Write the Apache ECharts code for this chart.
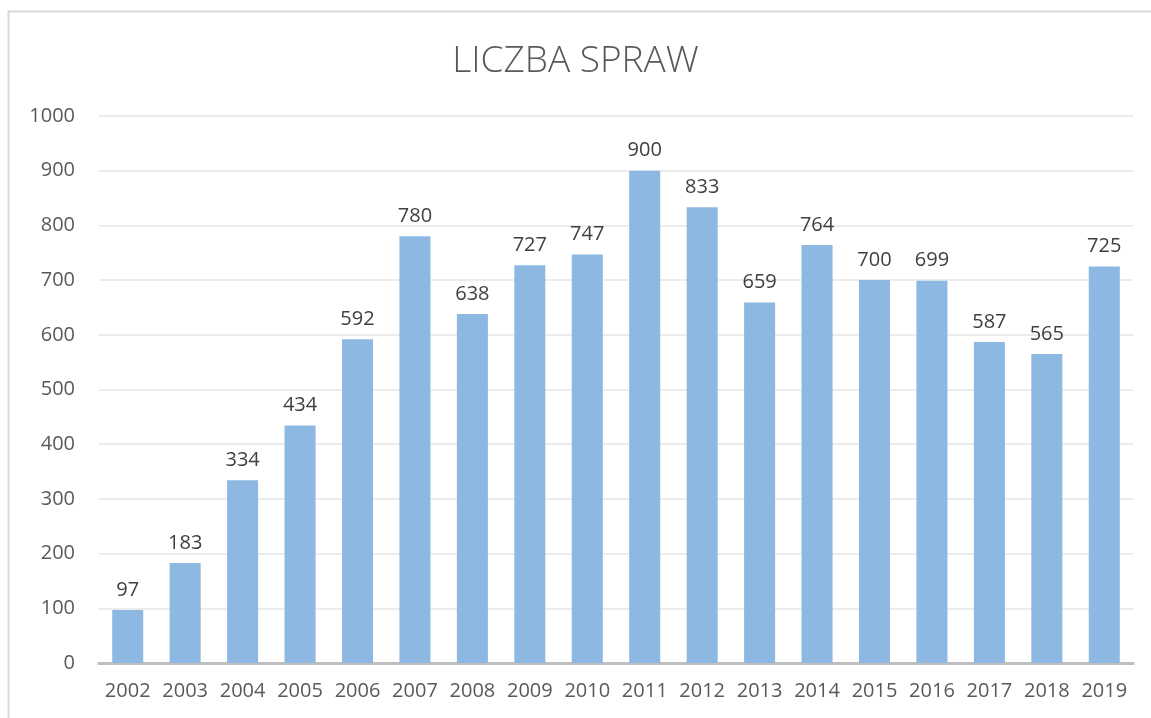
<!DOCTYPE html>
<html><head><meta charset="utf-8">
<script src="https://cdn.jsdelivr.net/npm/echarts@6/dist/echarts.min.js"></script>
<style>html,body{margin:0;padding:0;background:#fff;}#c{width:1151px;height:718px;}</style>
</head><body><div id="c"></div>
<script>
const categories = ['2002','2003','2004','2005','2006','2007','2008','2009','2010','2011','2012','2013','2014','2015','2016','2017','2018','2019'];
const values = [97,183,334,434,592,780,638,727,747,900,833,659,764,700,699,587,565,725];
const titleText = 'LICZBA SPRAW';
const font = '"Open Sans", Calibri, sans-serif';
const chart = echarts.init(document.getElementById('c'));
chart.setOption({
  animation: false,
  backgroundColor: '#fff',
  graphic: [{type:'rect', shape:{x:8.5,y:11.5,width:1200,height:800}, style:{fill:'none', stroke:'#d9d9d9', lineWidth:2}}],
  title: {text: titleText, left: 'center', top: 38, textStyle:{fontFamily: font, fontSize: 37, fontWeight: 300, color:'#595959'}},
  grid: {left: 99, right: 18, top: 116, bottom: 55},
  xAxis: {type:'category', data: categories,
    axisLine:{lineStyle:{color:'#bfbfbf', width:3}}, axisTick:{show:false},
    axisLabel:{interval: 0, fontFamily: font, fontSize: 20, color:'#595959', margin: 18}},
  yAxis: {type:'value', min:0, max:1000, interval:100,
    axisLine:{show:false}, axisTick:{show:false},
    splitLine:{lineStyle:{color:'#ececec', width:2}},
    axisLabel:{fontFamily: font, fontSize: 20, color:'#595959', margin: 24, formatter: v => String(v)}},
  series: [{type:'bar', data: values, barCategoryGap:'46%',
    itemStyle:{color:'#8cb8e2'},
    label:{show:true, position:'top', distance: 10, fontFamily: font, fontSize: 20, color:'#404040'}}]
});
</script></body></html>
